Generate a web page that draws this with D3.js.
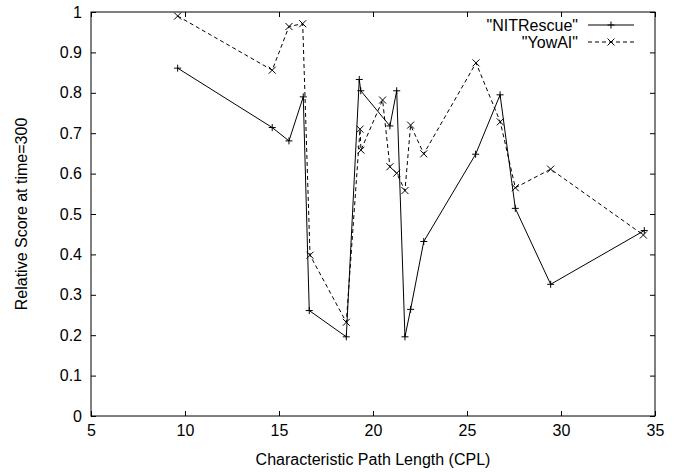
<!DOCTYPE html>
<html>
<head>
<meta charset="utf-8">
<script src="https://cdn.jsdelivr.net/npm/d3@7"></script>
<style>
  body { margin: 0; background: #fff; }
  text { font-family: "Liberation Sans", Arial, sans-serif; fill: #000; }
</style>
</head>
<body>
<svg id="chart"></svg>
<script>
const width = 693, height = 472;

// valeurs
const nitX = [9.61, 14.64, 15.53, 16.29, 16.61, 18.58, 19.27, 19.35, 20.9, 21.26, 21.7, 22.0, 22.7, 25.46, 26.76, 27.57, 29.45, 34.43];
const nitY = [0.861, 0.714, 0.681, 0.79, 0.261, 0.196, 0.833, 0.805, 0.718, 0.805, 0.196, 0.264, 0.432, 0.648, 0.795, 0.514, 0.326, 0.459];

const yowX = [9.61, 14.64, 15.53, 16.26, 16.65, 18.58, 19.31, 19.36, 20.51, 20.9, 21.26, 21.7, 22.0, 22.7, 25.48, 26.77, 27.57, 29.45, 34.38];
const yowY = [0.99, 0.856, 0.964, 0.971, 0.398, 0.232, 0.71, 0.658, 0.782, 0.617, 0.601, 0.558, 0.72, 0.649, 0.874, 0.728, 0.565, 0.611, 0.448];

const xTicks = [5, 10, 15, 20, 25, 30, 35];
const yTicks = [0, 0.1, 0.2, 0.3, 0.4, 0.5, 0.6, 0.7, 0.8, 0.9, 1];

const series = [
  { name: '"NITRescue"', xs: nitX, ys: nitY, dash: null, marker: "plus" },
  { name: '"YowAI"', xs: yowX, ys: yowY, dash: "4,3", marker: "cross" }
];

const margin = { left: 91, top: 12, right: 693 - 655, bottom: 472 - 416 };
const fs = 16;

const svg = d3.select("#chart")
    .attr("width", width)
    .attr("height", height);

const x = d3.scaleLinear().domain([5, 35]).range([margin.left, width - margin.right]);
const y = d3.scaleLinear().domain([0, 1]).range([height - margin.bottom, margin.top]);

const tickLen = 5;

// axes (ticks vers l'intérieur, avec miroir)
svg.append("g")
    .attr("transform", `translate(0,${y(0)})`)
    .call(d3.axisBottom(x).tickValues(xTicks).tickSize(-tickLen).tickPadding(9).tickFormat(d3.format("d")))
    .call(g => g.select(".domain").remove());
svg.append("g")
    .attr("transform", `translate(0,${y(1)})`)
    .call(d3.axisTop(x).tickValues(xTicks).tickSize(-tickLen).tickFormat(""))
    .call(g => g.select(".domain").remove());
svg.append("g")
    .attr("transform", `translate(${x(5)},0)`)
    .call(d3.axisLeft(y).tickValues(yTicks).tickSize(-tickLen).tickPadding(9).tickFormat(d => d === 0 || d === 1 ? d3.format("d")(d) : d3.format(".1f")(d)))
    .call(g => g.select(".domain").remove());
svg.append("g")
    .attr("transform", `translate(${x(35)},0)`)
    .call(d3.axisRight(y).tickValues(yTicks).tickSize(-tickLen).tickFormat(""))
    .call(g => g.select(".domain").remove());

svg.selectAll(".tick text").attr("font-size", fs).attr("font-family", "Liberation Sans, Arial, sans-serif");
svg.selectAll(".tick line").attr("stroke", "#000");

// cadre
svg.append("rect")
    .attr("x", x(5)).attr("y", y(1))
    .attr("width", x(35) - x(5)).attr("height", y(0) - y(1))
    .attr("fill", "none").attr("stroke", "#000").attr("stroke-width", 1);

// titres des axes
svg.append("text")
    .attr("x", (x(5) + x(35)) / 2).attr("y", 465)
    .attr("text-anchor", "middle").attr("font-size", fs)
    .text("Characteristic Path Length (CPL)");
svg.append("text")
    .attr("transform", `translate(27,${(y(0) + y(1)) / 2}) rotate(-90)`)
    .attr("text-anchor", "middle").attr("font-size", fs)
    .text("Relative Score at time=300");

function drawMarker(g, type, cx, cy) {
  const s = 3.5;
  const p = type === "plus"
    ? `M${cx - s},${cy}H${cx + s}M${cx},${cy - s}V${cy + s}`
    : `M${cx - s},${cy - s}L${cx + s},${cy + s}M${cx - s},${cy + s}L${cx + s},${cy - s}`;
  g.append("path").attr("d", p).attr("stroke", "#000").attr("stroke-width", 1).attr("fill", "none");
}

const line = d3.line().x(d => x(d[0])).y(d => y(d[1]));

series.forEach((s, i) => {
  const pts = s.xs.map((v, j) => [v, s.ys[j]]);
  const g = svg.append("g");
  g.append("path")
      .attr("d", line(pts))
      .attr("fill", "none")
      .attr("stroke", "#000")
      .attr("stroke-width", 1)
      .attr("stroke-dasharray", s.dash);
  pts.forEach(p => drawMarker(g, s.marker, x(p[0]), y(p[1])));

  // légende
  const ly = 25 + i * 17;
  svg.append("text")
      .attr("x", 578).attr("y", ly + 5.5)
      .attr("text-anchor", "end").attr("font-size", fs)
      .text(s.name);
  svg.append("line")
      .attr("x1", 588).attr("x2", 634).attr("y1", ly).attr("y2", ly)
      .attr("stroke", "#000").attr("stroke-width", 1)
      .attr("stroke-dasharray", s.dash);
  drawMarker(svg, s.marker, 611, ly);
});
</script>
</body>
</html>
